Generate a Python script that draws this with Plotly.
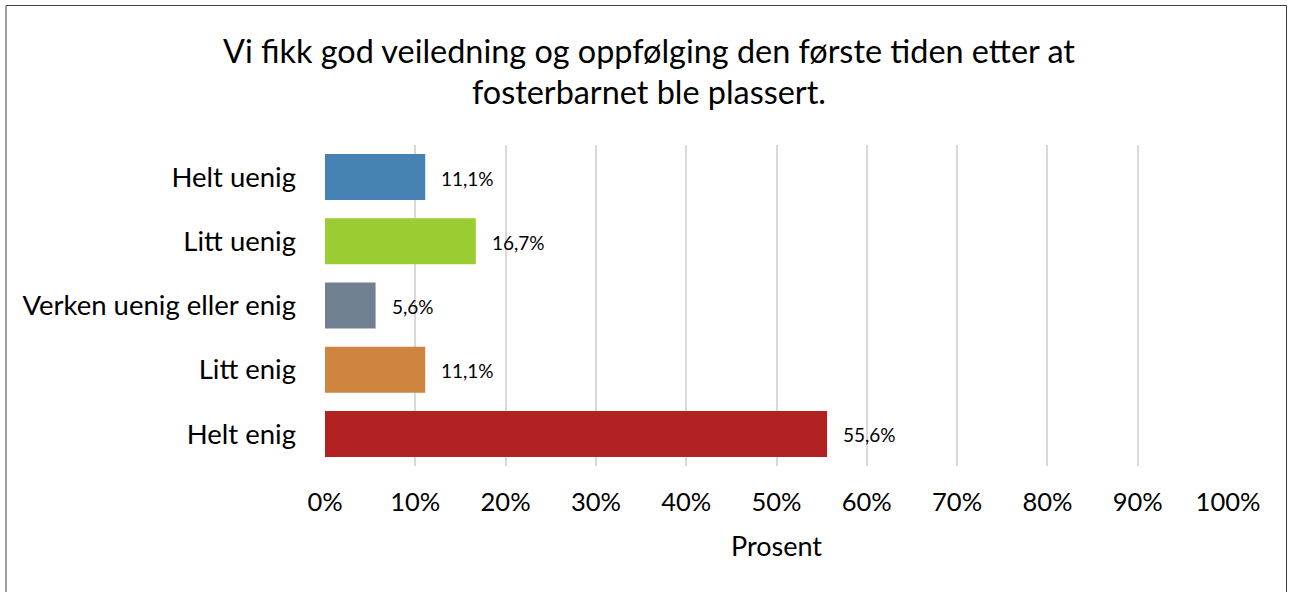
import plotly.graph_objects as go

categories = ["Helt uenig", "Litt uenig", "Verken uenig eller enig", "Litt enig", "Helt enig"]
values = [11.1, 16.7, 5.6, 11.1, 55.6]
colors = ["#4682B4", "#9ACD32", "#708090", "#CD853F", "#B22222"]
tick_vals = [0, 10, 20, 30, 40, 50, 60, 70, 80, 90, 100]
tick_text = ["0%", "10%", "20%", "30%", "40%", "50%", "60%", "70%", "80%", "90%", "100%"]
title_lines = ["Vi fikk god veiledning og oppfølging den første tiden etter at",
               "fosterbarnet ble plassert."]
x_title = "Prosent"

FONT = "Lato"
W, H = 1291, 592
L, R, T, B = 325, 63, 145, 126

fig = go.Figure()
fig.add_trace(go.Bar(
    x=values, y=categories, orientation="h",
    marker=dict(color=colors, line=dict(width=0)),
    hoverinfo="skip",
))

labels = [f"{v:.1f}".replace(".", ",") + "%" for v in values]
for c, v, t in zip(categories, values, labels):
    fig.add_annotation(x=v, y=c, xref="x", yref="y", text=t, showarrow=False,
                       xanchor="left", yanchor="middle", xshift=14, yshift=-1,
                       font=dict(family=FONT, size=19, color="#000000"))

pw, ph = W - L - R, H - T - B
def px_to_paper_y(py):
    return (H - B - py) / ph
def px_to_paper_x(px):
    return (px - L) / pw

for line, cy in zip(title_lines, [51, 91]):
    fig.add_annotation(x=px_to_paper_x(648.5), y=px_to_paper_y(cy), xref="paper", yref="paper",
                       text=line, showarrow=False, xanchor="center", yanchor="middle",
                       font=dict(family=FONT, size=32.4, color="#000000"))

fig.add_shape(type="rect", xref="paper", yref="paper",
              x0=px_to_paper_x(6), x1=px_to_paper_x(1286.5),
              y0=px_to_paper_y(5.5), y1=px_to_paper_y(600),
              line=dict(color="#404040", width=1), fillcolor="rgba(0,0,0,0)", layer="below")

fig.update_layout(
    width=W, height=H,
    margin=dict(l=L, r=R, t=T, b=B, pad=0),
    paper_bgcolor="white", plot_bgcolor="white",
    showlegend=False,
    bargap=0.283,
    font=dict(family=FONT, color="#000000"),
    xaxis=dict(range=[0, 100], tickvals=tick_vals, ticktext=tick_text,
               showgrid=True, gridcolor="#D9D9D9", gridwidth=2,
               zeroline=False, showline=False,
               ticks="", ticklabelstandoff=18,
               tickfont=dict(family=FONT, size=25.5, color="#000000"),
               title=dict(text=x_title, font=dict(family=FONT, size=27, color="#000000"), standoff=22),
               fixedrange=True),
    yaxis=dict(autorange="reversed", showgrid=False, zeroline=False, showline=False,
               ticks="", ticklabelstandoff=28,
               tickfont=dict(family=FONT, size=27.5, color="#000000"), fixedrange=True),
)

fig.write_html("out.html", config={"displayModeBar": False},
               post_script="document.body.style.margin='0';")
